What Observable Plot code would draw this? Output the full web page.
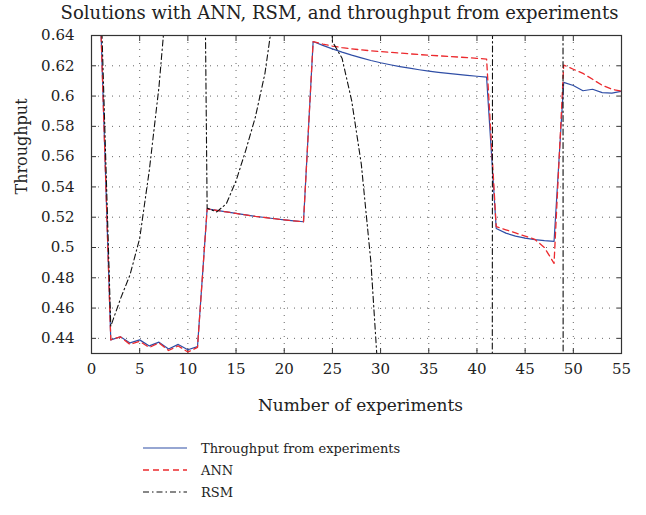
<!DOCTYPE html>
<html><head><meta charset="utf-8">
<script src="https://cdn.jsdelivr.net/npm/d3@7"></script>
<script src="https://cdn.jsdelivr.net/npm/@observablehq/plot@0.6"></script>
<style>
body{margin:0;background:#fff;}
#wrap{position:relative;width:646px;height:515px;font-family:"DejaVu Serif","Liberation Serif",serif;color:#222;background:#fff;}
#legend{position:absolute;left:143px;top:437px;font-size:13px;}
.row{display:flex;align-items:center;height:22px;}
.row svg{width:44px;height:10px;margin-right:14px;}
</style></head><body><div id="wrap"><div id="chart"></div><div id="legend"></div></div>
<script>
const experiments = [1,2,3,4,5,6,7,8,9,10,11,12,13,14,15,16,17,18,19,20,21,22,23,24,25,26,27,28,29,30,31,32,33,34,35,36,37,38,39,40,41,42,43,44,45,46,47,48,49,50,51,52,53,54,55];
const throughput = [0.640,0.439,0.441,0.437,0.439,0.435,0.4375,0.433,0.436,0.4325,0.4345,
  0.5255,0.5245,0.5235,0.5225,0.5215,0.5205,0.5198,0.519,0.5183,0.5176,0.517,
  0.636,0.6335,0.6312,0.629,0.627,0.6252,0.6235,0.622,0.6207,0.6195,0.6184,0.6174,0.6165,0.6157,0.615,0.6143,0.6137,0.6131,0.6125,
  0.5125,0.5095,0.5075,0.5062,0.5052,0.5045,0.504,
  0.609,0.607,0.6035,0.6045,0.6023,0.602,0.6032];
const ann = [0.640,0.439,0.441,0.436,0.438,0.434,0.437,0.432,0.435,0.431,0.434,
  0.5255,0.5245,0.5235,0.5225,0.5215,0.5205,0.5198,0.519,0.5183,0.5176,0.517,
  0.636,0.6343,0.633,0.632,0.6312,0.6305,0.6299,0.6294,0.6289,0.6284,0.6279,0.6274,0.627,0.6266,0.6262,0.6258,0.6254,0.6249,0.6244,
  0.5138,0.5117,0.5096,0.5075,0.5054,0.500,0.4895,
  0.6205,0.6177,0.615,0.6111,0.6071,0.6045,0.6032];
const rsm = [0.66,0.448,0.466,0.482,0.506,0.551,0.606,0.68,0.80,1.0,1.2,
  0.526,0.5235,0.529,0.544,0.564,0.586,0.615,0.66,0.72,0.78,0.83,
  0.85,0.80,0.636,0.625,0.597,0.555,0.49,0.39,0.30,0.20,0.0,-0.5,-1.0,-1.5,-2.0,-3.0,-4.0,-5.0,-5.5,
  4.5,6,8,10,12,14,16,
  -0.5,-1.0,-1.5,-2.0,-2.5,-3.0,-3.5];
const xTicks = [0,5,10,15,20,25,30,35,40,45,50,55];
const yTicks = [0.44,0.46,0.48,0.5,0.52,0.54,0.56,0.58,0.6,0.62,0.64];
const seriesNames = ["Throughput from experiments","ANN","RSM"];
const titleText = "Solutions with ANN, RSM, and throughput from experiments";
const xLabel = "Number of experiments";
const yLabel = "Throughput";

const colors = ["#2f4ea6","#ec2a2e","#111111"];
const dashes = [null,"6,4","6,3,1.5,3"];
const widths = [1.2,1.3,1.1];

const series = [throughput, ann, rsm].map(vals => experiments.map((e,i)=>({x:e, y:vals[i]})));

const fmt = d => String(d);
const chart = Plot.plot({
  width:646, height:420,
  marginLeft:91, marginRight:25, marginTop:35, marginBottom:67,
  x:{domain:[0,55]},
  y:{domain:[0.43,0.64]},
  style:{fontFamily:"'DejaVu Serif', 'Liberation Serif', serif", fontSize:"15px", color:"#222", background:"white"},
  marks:[
    Plot.gridX(xTicks,{stroke:"#555", strokeOpacity:0.9, strokeDasharray:"1,6"}),
    Plot.gridY(yTicks,{stroke:"#555", strokeOpacity:0.9, strokeDasharray:"1,6"}),
    Plot.axisX(xTicks,{anchor:"bottom", tickSize:5, dy:-5, tickPadding:10, tickFormat:fmt, label:null, stroke:"#333"}),
    Plot.axisX(xTicks,{anchor:"top", tickSize:5, dy:5, tickFormat:()=>"", label:null, stroke:"#333"}),
    Plot.axisY(yTicks,{anchor:"left", tickSize:5, dx:5, tickPadding:17, tickFormat:fmt, label:null, stroke:"#333"}),
    Plot.axisY(yTicks,{anchor:"right", tickSize:5, dx:-5, tickFormat:()=>"", label:null, stroke:"#333"}),
    Plot.line(series[0],{x:"x", y:"y", stroke:colors[0], strokeWidth:widths[0], clip:true}),
    Plot.line(series[1],{x:"x", y:"y", stroke:colors[1], strokeWidth:widths[1], strokeDasharray:dashes[1], clip:true}),
    Plot.line(series[2],{x:"x", y:"y", stroke:colors[2], strokeWidth:widths[2], strokeDasharray:dashes[2], clip:true}),
    Plot.frame({stroke:"#333", strokeWidth:1.2}),
    Plot.text([titleText],{frameAnchor:"top", lineAnchor:"middle", dy:-22, dx:-17, fontSize:18, fill:"#222"}),
    Plot.text([xLabel],{frameAnchor:"bottom", lineAnchor:"middle", dy:52, dx:4, fontSize:17, fill:"#222"}),
    Plot.text([yLabel],{frameAnchor:"left", rotate:-90, dx:-70, fontSize:16, fill:"#222"})
  ]
});
document.getElementById("chart").appendChild(chart);

const legend = document.getElementById("legend");
seriesNames.forEach((name,i)=>{
  const row = document.createElement("div");
  row.className = "row";
  const dash = dashes[i] ? ` stroke-dasharray="${dashes[i]}"` : "";
  row.innerHTML = `<svg viewBox="0 0 44 10"><line x1="0" y1="5" x2="44" y2="5" stroke="${colors[i]}" stroke-width="${widths[i]}"${dash}/></svg><span>${name}</span>`;
  legend.appendChild(row);
});
</script>
</body></html>
